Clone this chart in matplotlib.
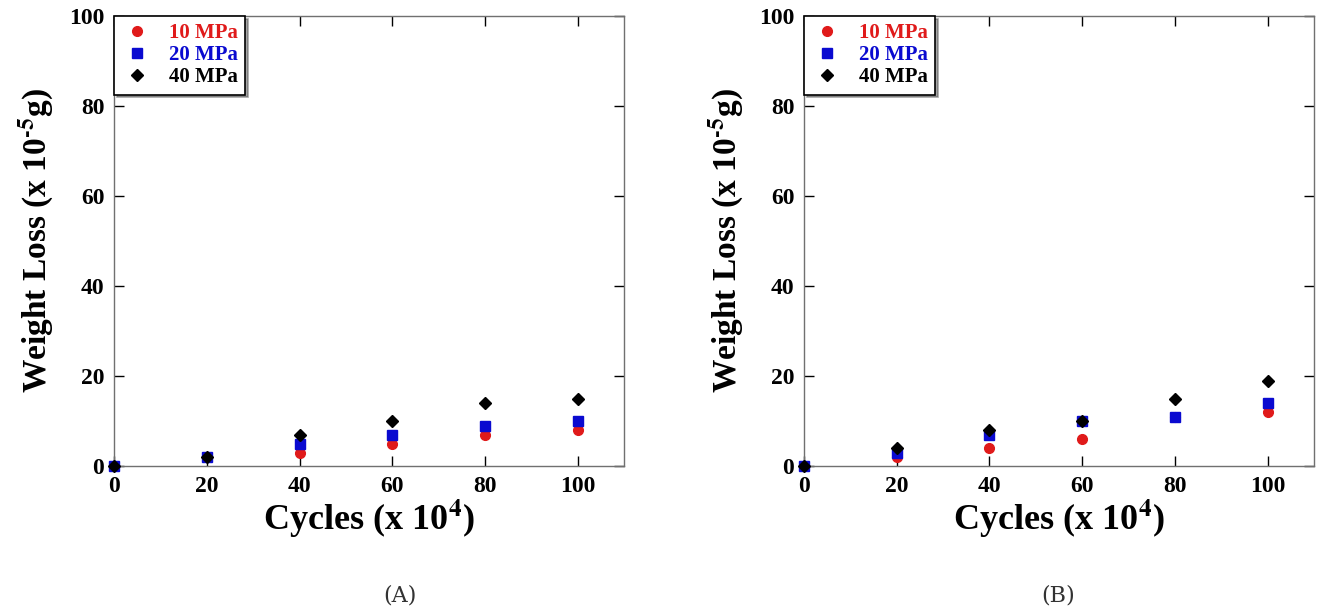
import numpy as np
import matplotlib.pyplot as plt

cycles = [0, 20, 40, 60, 80, 100]
labels = ['10 MPa', '20 MPa', '40 MPa']

# panel (A)
a_10 = [0, 2, 3, 5, 7, 8]
a_20 = [0, 2, 5, 7, 9, 10]
a_40 = [0, 2, 7, 10, 14, 15]

# panel (B)
b_10 = [0, 2, 4, 6, 11, 12]
b_20 = [0, 3, 7, 10, 11, 14]
b_40 = [0, 4, 8, 10, 15, 19]

colors = ['#e01a1a', '#0a0ad0', '#000000']
markers = ['o', 's', 'D']
sizes = [7, 7, 6]

plt.rcParams['font.family'] = ['Liberation Serif', 'DejaVu Serif']
plt.rcParams['font.weight'] = 'bold'
plt.rcParams['mathtext.fontset'] = 'stix'

fig = plt.figure(figsize=(13.23, 6.14), dpi=100)
ax1 = fig.add_axes([0.0862, 0.241, 0.3855, 0.733])
ax2 = fig.add_axes([0.6077, 0.241, 0.3855, 0.733])


def panel(ax, series):
    for ys, c, m, s, lab in zip(series, colors, markers, sizes, labels):
        ax.plot(cycles, ys, linestyle='none', marker=m, color=c,
                markersize=s, label=lab, clip_on=False, zorder=3)
    ax.set_xlim(0, 110)
    ax.set_ylim(0, 100)
    ax.set_xticks([0, 20, 40, 60, 80, 100])
    ax.set_yticks([0, 20, 40, 60, 80, 100])
    for sp in ax.spines.values():
        sp.set_color('#707070')
        sp.set_linewidth(1.0)
    ax.tick_params(direction='in', length=7, width=1.0, color='black',
                   top=True, right=True, labelsize=17, pad=7)
    for t in ax.get_xticklabels() + ax.get_yticklabels():
        t.set_fontweight('bold')
    ax.set_xlabel(r'Cycles (x 10$^{\mathbf{4}}$)', fontsize=26,
                  fontweight='bold', labelpad=0)
    ax.set_ylabel(r'Weight Loss (x 10$^{\mathbf{\text{-}5}}$g)', fontsize=24,
                  fontweight='bold', labelpad=10)
    leg = ax.legend(loc='upper left', bbox_to_anchor=(0.0, 1.0),
                    frameon=True, fancybox=False, shadow=True,
                    edgecolor='black', framealpha=1, borderaxespad=0.0,
                    handletextpad=0.8, handlelength=1.5, borderpad=0.35,
                    labelspacing=0.1, prop={'size': 15, 'weight': 'bold'})
    leg.get_frame().set_linewidth(1.2)
    for txt, c in zip(leg.get_texts(), colors):
        txt.set_color(c)


panel(ax1, [a_10, a_20, a_40])
panel(ax2, [b_10, b_20, b_40])

fig.text(0.302, 0.03, '(A)', ha='center', va='center', fontsize=16,
         fontweight='normal', family='DejaVu Serif', color='#333333')
fig.text(0.8, 0.03, '(B)', ha='center', va='center', fontsize=16,
         fontweight='normal', family='DejaVu Serif', color='#333333')

fig.savefig('out.png', dpi=100)
